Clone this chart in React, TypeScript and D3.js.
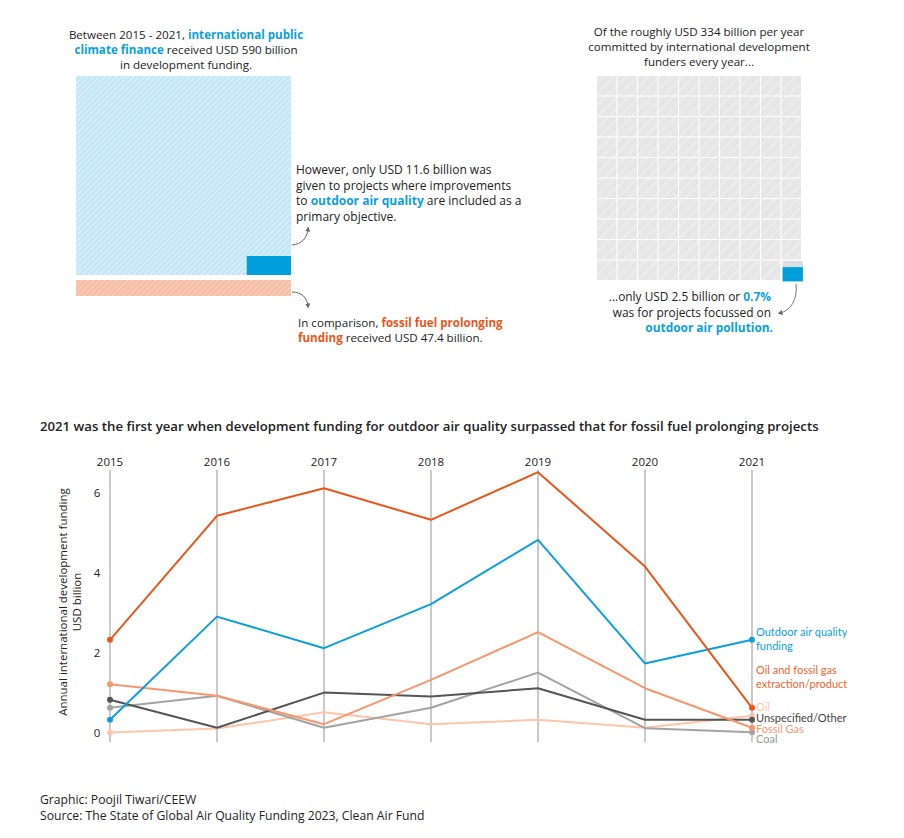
import React from 'react';
import * as d3 from 'd3';

const years = ['2015', '2016', '2017', '2018', '2019', '2020', '2021'];
const yTicks = [0, 2, 4, 6];

const oilGasValues = [2.33, 5.43, 6.12, 5.33, 6.52, 4.16, 0.63];
const airQualityValues = [0.33, 2.91, 2.12, 3.22, 4.83, 1.74, 2.33];
const fossilGasValues = [1.22, 0.93, 0.22, 1.33, 2.52, 1.12, 0.13];
const coalValues = [0.63, 0.93, 0.13, 0.63, 1.51, 0.12, 0.02];
const otherValues = [0.83, 0.13, 1.01, 0.91, 1.12, 0.33, 0.33];
const oilValues = [0.01, 0.11, 0.52, 0.22, 0.33, 0.13, 0.43];

const seriesNames = ['Oil', 'Coal', 'Unspecified/Other', 'Fossil Gas', 'Outdoor air quality funding', 'Oil and fossil gas extraction/production'];
const seriesColors = ['#fbc6ab', '#a3a3a3', '#555555', '#f5976f', '#0d9fdc', '#e9561c'];

// top summary figures, USD billion
const climateFinance = 590;
const airQualityShare = 11.6;
const fossilShare = 47.4;
const waffleCells = 100;
const wafflePct = 0.7;

const BLUE = '#0d9fdc';
const ORANGE = '#e9561c';
const TEXT = '#222';
const FONT = '"Open Sans", "Noto Sans", sans-serif';
const LABEL_FONT = 'Lato, "Noto Sans", sans-serif';

const series = [oilValues, coalValues, otherValues, fossilGasValues, airQualityValues, oilGasValues].map((values, i) => ({
  name: seriesNames[i],
  color: seriesColors[i],
  values,
}));

const endLabels = [
  { lines: ['Outdoor air quality', 'funding'], color: BLUE, y: 632 },
  { lines: ['Oil and fossil gas', 'extraction/production'], color: '#ec6430', y: 670 },
  { lines: ['Oil'], color: '#fbc6ab', y: 707 },
  { lines: ['Unspecified/Other'], color: '#444', y: 718 },
  { lines: ['Fossil Gas'], color: '#f5976f', y: 728.5 },
  { lines: ['Coal'], color: '#999', y: 739 },
];

const App: React.FC = () => {
  const x = d3.scalePoint<string>().domain(years).range([110, 752]);
  const y = d3.scaleLinear().domain([0, 6]).range([733, 493]);
  const line = d3.line<number>()
    .x((_, i) => x(years[i]) as number)
    .y(d => y(d));

  // area proportional blocks
  const bigW = 215;
  const bigH = 199;
  const perBillion = (bigW * bigH) / climateFinance;
  const aqH = 19;
  const aqW = (airQualityShare * perBillion) / aqH;
  const fossilH = (fossilShare * perBillion) / bigW;

  // waffle
  const cols = 10;
  const cell = 20.4;
  const wx = d3.scaleBand<number>().domain(d3.range(cols)).range([597, 801]).paddingInner(0.05);
  const wy = d3.scaleBand<number>().domain(d3.range(cols)).range([76, 280]).paddingInner(0.05);
  const cells = d3.range(waffleCells - 1);

  return (
    <svg width={904} height={838} style={{ position: 'absolute', left: 0, top: 0, background: '#fff' }} fontFamily={FONT}>
      <defs>
        <pattern id="hatchBlue" width={4} height={4} patternUnits="userSpaceOnUse" patternTransform="rotate(45)">
          <rect width={4} height={4} fill="#c4e7f6" />
          <line x1={0} y1={0} x2={0} y2={4} stroke="#e6f5fc" strokeWidth={1.6} />
        </pattern>
        <pattern id="hatchSalmon" width={4} height={4} patternUnits="userSpaceOnUse" patternTransform="rotate(45)">
          <rect width={4} height={4} fill="#f7bea6" />
          <line x1={0} y1={0} x2={0} y2={4} stroke="#fbd6c6" strokeWidth={1.6} />
        </pattern>
        <pattern id="hatchGrey" width={8} height={8} patternUnits="userSpaceOnUse" patternTransform="rotate(45)">
          <rect width={8} height={8} fill="#e6e6e6" />
          <line x1={0} y1={0} x2={0} y2={8} stroke="#eeeeee" strokeWidth={3} />
        </pattern>
        <marker id="arrow" viewBox="0 0 6 6" refX={3} refY={3} markerWidth={5} markerHeight={5} orient="auto">
          <path d="M0,0 L6,3 L0,6 Z" fill="#666" />
        </marker>
        <clipPath id="plotClip">
          <rect x={0} y={0} width={847} height={838} />
        </clipPath>
      </defs>

      {/* top left block */}
      <g fontSize={11.6} fill={TEXT} textAnchor="middle">
        <text x={186} y={39}>Between 2015 - 2021, <tspan fill={BLUE} fontWeight={700}>international public</tspan></text>
        <text x={186} y={54}><tspan fill={BLUE} fontWeight={700}>climate finance</tspan> received USD 590 billion</text>
        <text x={186} y={69}>in development funding.</text>
      </g>
      <rect x={76} y={76} width={bigW} height={bigH} fill="url(#hatchBlue)" />
      <rect x={76 + bigW - aqW} y={76 + bigH - aqH} width={aqW} height={aqH} fill="#009edb" />
      <rect x={76} y={280} width={bigW} height={fossilH} fill="url(#hatchSalmon)" />

      <g fontSize={12} fill={TEXT}>
        <text x={296} y={174}>However, only USD 11.6 billion was</text>
        <text x={296} y={190}>given to projects where improvements</text>
        <text x={296} y={205}>to <tspan fill={BLUE} fontWeight={700}>outdoor air quality</tspan> are included as a</text>
        <text x={296} y={221}>primary objective.</text>
      </g>
      <g fontSize={11.6} fill={TEXT}>
        <text x={298} y={327}>In comparison, <tspan fill={ORANGE} fontWeight={700}>fossil fuel prolonging</tspan></text>
        <text x={298} y={342}><tspan fill={ORANGE} fontWeight={700}>funding</tspan> received USD 47.4 billion.</text>
      </g>
      <path d="M292,245 C302,244 307,238 308,229" fill="none" stroke="#666" strokeWidth={1} markerEnd="url(#arrow)" />
      <path d="M292,292 C302,292 307,298 308,306" fill="none" stroke="#666" strokeWidth={1} markerEnd="url(#arrow)" />

      {/* top right waffle */}
      <g fontSize={11.6} fill={TEXT} textAnchor="middle">
        <text x={699} y={36}>Of the roughly USD 334 billion per year</text>
        <text x={699} y={51}>committed by international development</text>
        <text x={699} y={66}>funders every year...</text>
      </g>
      {cells.map(i => (
        <rect key={i} x={wx(i % cols)} y={wy(Math.floor(i / cols))} width={wx.bandwidth()} height={wy.bandwidth()} fill="url(#hatchGrey)" />
      ))}
      <rect x={782.5} y={261} width={cell} height={cell * (1 - wafflePct)} fill="#dcdce4" />
      <rect x={782.5} y={261 + cell * (1 - wafflePct)} width={cell} height={cell * wafflePct} fill="#009edb" />
      <path d="M796,284 C798,300 790,311 780,313" fill="none" stroke="#777" strokeWidth={1} markerEnd="url(#arrow)" />
      <g fontSize={11.9} fill={TEXT} textAnchor="end">
        <text x={771} y={301}>...only USD 2.5 billion or <tspan fill={BLUE} fontWeight={700}>0.7%</tspan></text>
        <text x={771} y={317}>was for projects focussed on</text>
        <text x={773} y={332} fill={BLUE} fontWeight={700}>outdoor air pollution.</text>
      </g>

      {/* line chart */}
      <text x={40} y={431} fontSize={13.2} fontWeight={600} fill={TEXT}>
        2021 was the first year when development funding for outdoor air quality surpassed that for fossil fuel prolonging projects
      </text>
      <g>
        {years.map(yr => (
          <g key={yr}>
            <line x1={x(yr)} x2={x(yr)} y1={470} y2={742} stroke="#b8b8b8" strokeWidth={1.5} />
            <text x={x(yr)} y={466} fontSize={11.5} textAnchor="middle" fill={TEXT}>{yr}</text>
          </g>
        ))}
        {yTicks.map(t => (
          <text key={t} x={97} y={y(t) + 4} fontSize={11.5} textAnchor="middle" fill={TEXT}>{t}</text>
        ))}
        <g transform="translate(0,602) rotate(-90)" fontSize={11.5} fill={TEXT} textAnchor="middle">
          <text x={0} y={67}>Annual international development funding</text>
          <text x={0} y={81}>USD billion</text>
        </g>
        {series.map(s => (
          <g key={s.name}>
            <path d={line(s.values) || ''} fill="none" stroke={s.color} strokeWidth={2} strokeLinejoin="round" />
            <circle cx={x(years[0])} cy={y(s.values[0])} r={3} fill={s.color} />
            <circle cx={x(years[years.length - 1])} cy={y(s.values[s.values.length - 1])} r={3} fill={s.color} />
          </g>
        ))}
        <g clipPath="url(#plotClip)" fontSize={11} fontFamily={LABEL_FONT}>
          {endLabels.map(l => (
            <text key={l.lines[0]} x={756} y={l.y + 4} fill={l.color}>
              {l.lines.map((t, i) => (
                <tspan key={t} x={756} dy={i === 0 ? 0 : 13.5}>{t}</tspan>
              ))}
            </text>
          ))}
        </g>
      </g>

      <g fontSize={12.2} fill={TEXT}>
        <text x={40} y={804}>Graphic: Poojil Tiwari/CEEW</text>
        <text x={40} y={820}>Source: The State of Global Air Quality Funding 2023, Clean Air Fund</text>
      </g>
    </svg>
  );
};

export default App;
